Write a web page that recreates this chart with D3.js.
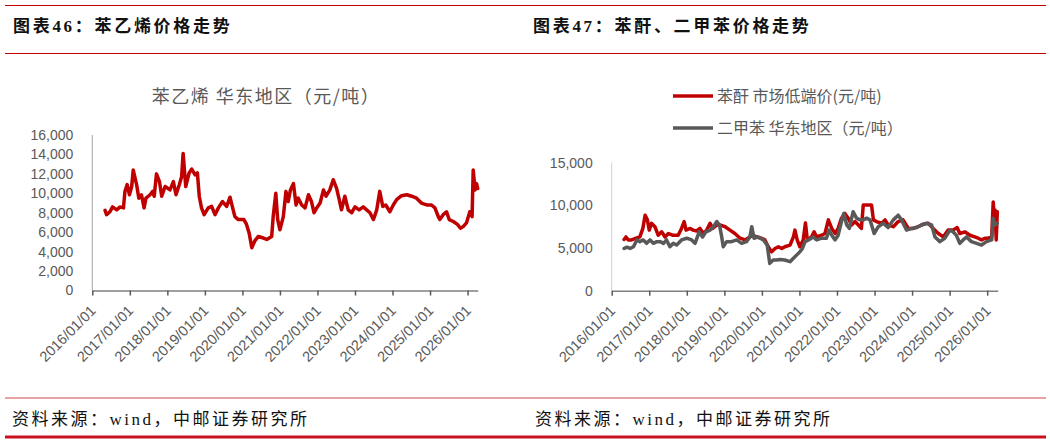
<!DOCTYPE html>
<html><head><meta charset="utf-8">
<script src="https://cdn.jsdelivr.net/npm/d3@7"></script>
<style>body{margin:0;background:#fff} svg{display:block;background:#fff}</style>
</head><body><svg id="c" width="1050" height="444"></svg>
<script>
// ---------- DATA ----------
const tickYears = [2016,2017,2018,2019,2020,2021,2022,2023,2024,2025,2026];
const tickLabels = ["2016/01/01","2017/01/01","2018/01/01","2019/01/01","2020/01/01","2021/01/01","2022/01/01","2023/01/01","2024/01/01","2025/01/01","2026/01/01"];
const leftYTicks = [0,2000,4000,6000,8000,10000,12000,14000,16000];
const rightYTicks = [0,5000,10000,15000];

// 苯乙烯 华东地区 (decimal year, 元/吨)
const styreneDates = [2016.34,2016.38,2016.47,2016.54,2016.65,2016.74,2016.83,2016.87,2016.93,2016.99,
2017.05,2017.09,2017.18,2017.24,2017.31,2017.38,2017.43,2017.54,2017.61,2017.65,2017.71,2017.79,2017.85,2017.94,
2018.07,2018.16,2018.23,2018.32,2018.38,2018.42,2018.49,2018.58,2018.65,2018.74,2018.80,2018.85,2018.91,2018.98,
2019.09,2019.18,2019.27,2019.36,2019.47,2019.58,2019.67,2019.74,2019.80,2019.89,
2020.04,2020.11,2020.18,2020.25,2020.33,2020.42,2020.56,2020.65,2020.78,2020.82,2020.89,2020.94,
2021.00,2021.09,2021.16,2021.22,2021.28,2021.36,2021.43,2021.49,2021.58,2021.67,2021.76,2021.84,2021.91,2021.98,
2022.07,2022.16,2022.23,2022.33,2022.42,2022.51,2022.58,2022.64,2022.73,2022.82,2022.91,
2023.00,2023.11,2023.22,2023.31,2023.40,2023.49,2023.58,2023.66,2023.74,2023.82,2023.93,
2024.02,2024.11,2024.24,2024.38,2024.51,2024.64,2024.77,2024.91,
2025.04,2025.13,2025.22,2025.26,2025.35,2025.44,2025.51,2025.62,2025.73,2025.81,2025.89,2025.97,
2026.06,2026.12,2026.15,2026.20,2026.24,2026.27];
const styreneValues = [8240,7800,8100,8600,8300,8600,8500,10200,10900,9850,
10700,12400,10900,9500,9850,8500,9500,9850,10200,9700,12000,11200,9700,10700,
10350,11200,9850,10900,11700,14100,10700,12100,12500,11900,12100,9700,8500,7800,
8500,8650,7800,8500,9150,8650,9600,8500,7600,7300,
7300,6800,5900,4400,5100,5550,5400,5250,5550,7600,10000,7300,
6250,7600,10200,9150,10350,11000,8800,9500,8800,8500,9850,9150,8000,8500,
9000,10350,9700,10350,11400,10500,9350,8300,9700,8300,8000,
8600,8300,8600,8300,8000,7300,8300,10200,8650,8800,8100,
8800,9350,9750,9850,9700,9500,9000,8800,
8800,8500,7600,7300,7800,8100,7300,7100,6800,6400,6600,6950,
8100,7600,12400,10350,11000,10500];

// 苯酐 市场低端价
const paDates = [2016.33,2016.38,2016.44,2016.53,2016.65,2016.75,2016.83,2016.89,2016.95,
2017.00,2017.06,2017.15,2017.24,2017.33,2017.42,2017.51,2017.62,2017.77,2017.86,2017.93,2017.98,
2018.09,2018.17,2018.26,2018.35,2018.44,2018.53,2018.62,2018.69,2018.80,2018.88,
2019.02,2019.15,2019.28,2019.42,2019.55,2019.68,2019.77,2019.86,2019.99,
2020.08,2020.17,2020.26,2020.35,2020.44,2020.53,2020.61,2020.75,2020.84,2020.88,2020.94,
2021.01,2021.10,2021.16,2021.21,2021.32,2021.39,2021.46,2021.59,2021.68,2021.77,2021.86,2021.95,
2022.03,2022.12,2022.21,2022.30,2022.39,2022.48,2022.57,2022.65,2022.70,2022.92,2022.97,
2023.05,2023.19,2023.28,2023.36,2023.50,2023.63,2023.76,2023.90,
2024.03,2024.16,2024.30,2024.43,2024.56,2024.70,2024.83,2024.96,
2025.09,2025.20,2025.27,2025.41,2025.54,2025.67,2025.76,2025.85,2025.94,
2026.03,2026.12,2026.16,2026.19,2026.21,2026.24,2026.27];
const paValues = [6000,6300,5950,5950,6150,6300,7300,8850,8300,
7100,7900,7500,6500,6900,6300,6700,6500,6500,7300,8100,7100,
7300,7100,7000,7300,6700,7100,7900,7300,7700,7700,
7500,7100,6700,6150,5950,6300,6500,6300,6150,
5950,5150,4550,4950,5150,4950,5150,5350,6300,7100,5950,
5150,5950,7950,5950,6300,6900,6300,6500,6700,8300,7300,6700,
7300,8500,9050,8500,7700,8100,7700,7300,10050,10050,8300,
8100,7900,8300,7700,7500,8100,8300,7300,
7300,7500,7800,7900,7300,6700,6300,7100,
7100,7400,6700,6900,6500,6300,6150,5950,6150,
6150,6300,10400,8500,9450,5950,9250];

// 二甲苯 华东地区
const xyleneDates = [2016.33,2016.40,2016.49,2016.58,2016.67,2016.75,2016.84,2016.93,
2017.02,2017.11,2017.20,2017.29,2017.38,2017.46,2017.55,2017.64,2017.73,2017.86,
2018.00,2018.13,2018.22,2018.33,2018.42,2018.51,2018.62,2018.71,2018.80,2018.87,2018.93,2018.97,
2019.06,2019.19,2019.33,2019.46,2019.59,2019.68,2019.73,2019.79,2019.90,
2020.04,2020.14,2020.21,2020.30,2020.39,2020.48,2020.61,2020.75,2020.84,2020.93,
2021.01,2021.08,2021.15,2021.24,2021.37,2021.46,2021.59,2021.72,2021.79,2021.86,2021.95,
2022.03,2022.12,2022.18,2022.26,2022.33,2022.39,2022.43,2022.52,2022.61,2022.70,2022.79,2022.88,2022.99,
2023.10,2023.23,2023.36,2023.50,2023.63,2023.72,2023.85,2023.99,
2024.12,2024.25,2024.39,2024.52,2024.61,2024.74,2024.87,
2025.01,2025.09,2025.18,2025.27,2025.36,2025.45,2025.58,2025.72,2025.85,2025.98,
2026.12,2026.16,2026.20,2026.27];
const xyleneValues = [4950,5100,4950,5150,5950,5750,5950,5550,
5950,5550,5750,5750,5550,5950,5150,5550,5350,5950,
6150,5950,5550,6900,6300,6900,7100,7500,8100,7700,6300,5150,
5750,5750,5950,5550,5750,6300,7500,6150,6300,
5950,5350,3200,3600,3600,3650,3600,3400,3800,4200,
4550,4950,5750,5950,6300,5950,6150,6150,7100,6500,5950,
6500,8100,9050,7700,7300,8500,9250,8500,8300,8300,8500,8300,6700,
7500,7900,7400,8300,8850,8300,7100,7300,
7400,7700,7900,7700,6300,5750,6150,
7100,6900,6500,5550,5950,6300,5750,5550,5350,5750,
5950,8500,7700,7900];

// ---------- DRAW ----------
const svg = d3.select('#c');
const RED = '#c00000', GRAY = '#595959', TXT = '#595959';
const CJK = '"Noto Sans CJK SC", "Noto Sans", sans-serif';
const SERIF = '"Liberation Serif", "Noto Sans CJK SC", serif';

// frame lines
svg.append('line').attr('x1',5).attr('x2',1046).attr('y1',5.5).attr('y2',5.5).attr('stroke',RED).attr('stroke-width',1);
svg.append('line').attr('x1',5).attr('x2',1046).attr('y1',53.5).attr('y2',53.5).attr('stroke',RED).attr('stroke-width',1);
svg.append('line').attr('x1',5).attr('x2',1046).attr('y1',398).attr('y2',398).attr('stroke','#d04848').attr('stroke-width',1);
svg.append('line').attr('x1',5).attr('x2',1046).attr('y1',437).attr('y2',437).attr('stroke','#c8101e').attr('stroke-width',3);

// headers
const headers = [{x:13, t:'图表46：苯乙烯价格走势'},{x:533, t:'图表47：苯酐、二甲苯价格走势'}];
headers.forEach(h => svg.append('text').attr('x',h.x).attr('y',32).text(h.t)
  .style('font-family',SERIF).style('font-weight','bold').style('font-size','17px')
  .style('letter-spacing','2.7px').attr('fill','#111'));
// footers
[12,535].forEach(x => svg.append('text').attr('x',x).attr('y',425).text('资料来源：wind，中邮证券研究所')
  .style('font-family',SERIF).style('font-size','17px').style('letter-spacing','2.5px').attr('fill','#111'));

function panel(cfg){
  const x = d3.scaleLinear().domain(cfg.xDomain).range([cfg.x0, cfg.x1]);
  const y = d3.scaleLinear().domain([0, cfg.yMax]).range([cfg.yBot, cfg.yTop]);
  svg.append('line').attr('x1',cfg.x0).attr('x2',cfg.x0).attr('y1',y(cfg.yMax)).attr('y2',y(0))
    .attr('stroke',cfg.yAxisColor).attr('stroke-width',1);
  const ya = svg.append('g').attr('transform',`translate(${cfg.x0},0)`)
    .call(d3.axisLeft(y).tickValues(cfg.yTicks).tickSize(0).tickPadding(19).tickFormat(d3.format(',')));
  ya.select('.domain').remove();
  ya.selectAll('text').attr('fill',TXT).style('font-family','"Liberation Sans", Arial, sans-serif').style('font-size','14px');

  const xa = svg.append('g').attr('transform',`translate(0,${cfg.yBot})`)
    .call(d3.axisBottom(x).tickValues(tickYears).tickSize(5).tickSizeOuter(0).tickFormat((d,i)=>tickLabels[i]));
  xa.select('.domain').attr('stroke','#7f7f7f').attr('stroke-width',1.5);
  xa.selectAll('.tick line').attr('stroke','#595959').attr('stroke-width',1.5);
  xa.selectAll('.tick text').attr('x',0).attr('y',0).attr('dy',null)
    .attr('transform','translate(4,21) rotate(-45)').attr('text-anchor','end')
    .attr('fill',TXT).style('font-family','"Liberation Sans", Arial, sans-serif').style('font-size','14.5px');

  const line = d3.line().x(d=>x(d[0])).y(d=>y(d[1]));
  cfg.series.forEach(s => {
    svg.append('path').datum(d3.zip(s.dates, s.values)).attr('d', line)
      .attr('fill','none').attr('stroke', s.color).attr('stroke-width',3.5)
      .attr('stroke-linejoin','round').attr('stroke-linecap','round');
  });
}

panel({x0:92.3, x1:477.7, xDomain:[2016, 2026.27], yTop:135, yBot:290.5, yMax:16000,
  yTicks:leftYTicks, yAxisColor:'#a6a6a6',
  series:[{dates:styreneDates, values:styreneValues, color:RED}]});
panel({x0:611.7, x1:997.7, xDomain:[2016, 2026.28], yTop:162.7, yBot:290.7, yMax:15000,
  yTicks:rightYTicks, yAxisColor:'#d0d0d0',
  series:[{dates:paDates, values:paValues, color:RED},{dates:xyleneDates, values:xyleneValues, color:GRAY}]});

// left chart title
svg.append('text').attr('x',266).attr('y',103).attr('text-anchor','middle').text('苯乙烯 华东地区（元/吨）')
  .style('font-family',CJK).style('font-size','18px').style('letter-spacing','1.5px').attr('fill',TXT);

// right legend
const legend = [{t:'苯酐 市场低端价(元/吨)', c:RED, y:96},{t:'二甲苯 华东地区（元/吨）', c:GRAY, y:128}];
legend.forEach(l => {
  svg.append('line').attr('x1',673).attr('x2',713).attr('y1',l.y).attr('y2',l.y).attr('stroke',l.c).attr('stroke-width',3.5);
  svg.append('text').attr('x',717).attr('y',l.y).attr('dy','0.35em').text(l.t)
    .style('font-family',CJK).style('font-size','16px').attr('fill',TXT);
});
</script></body></html>
